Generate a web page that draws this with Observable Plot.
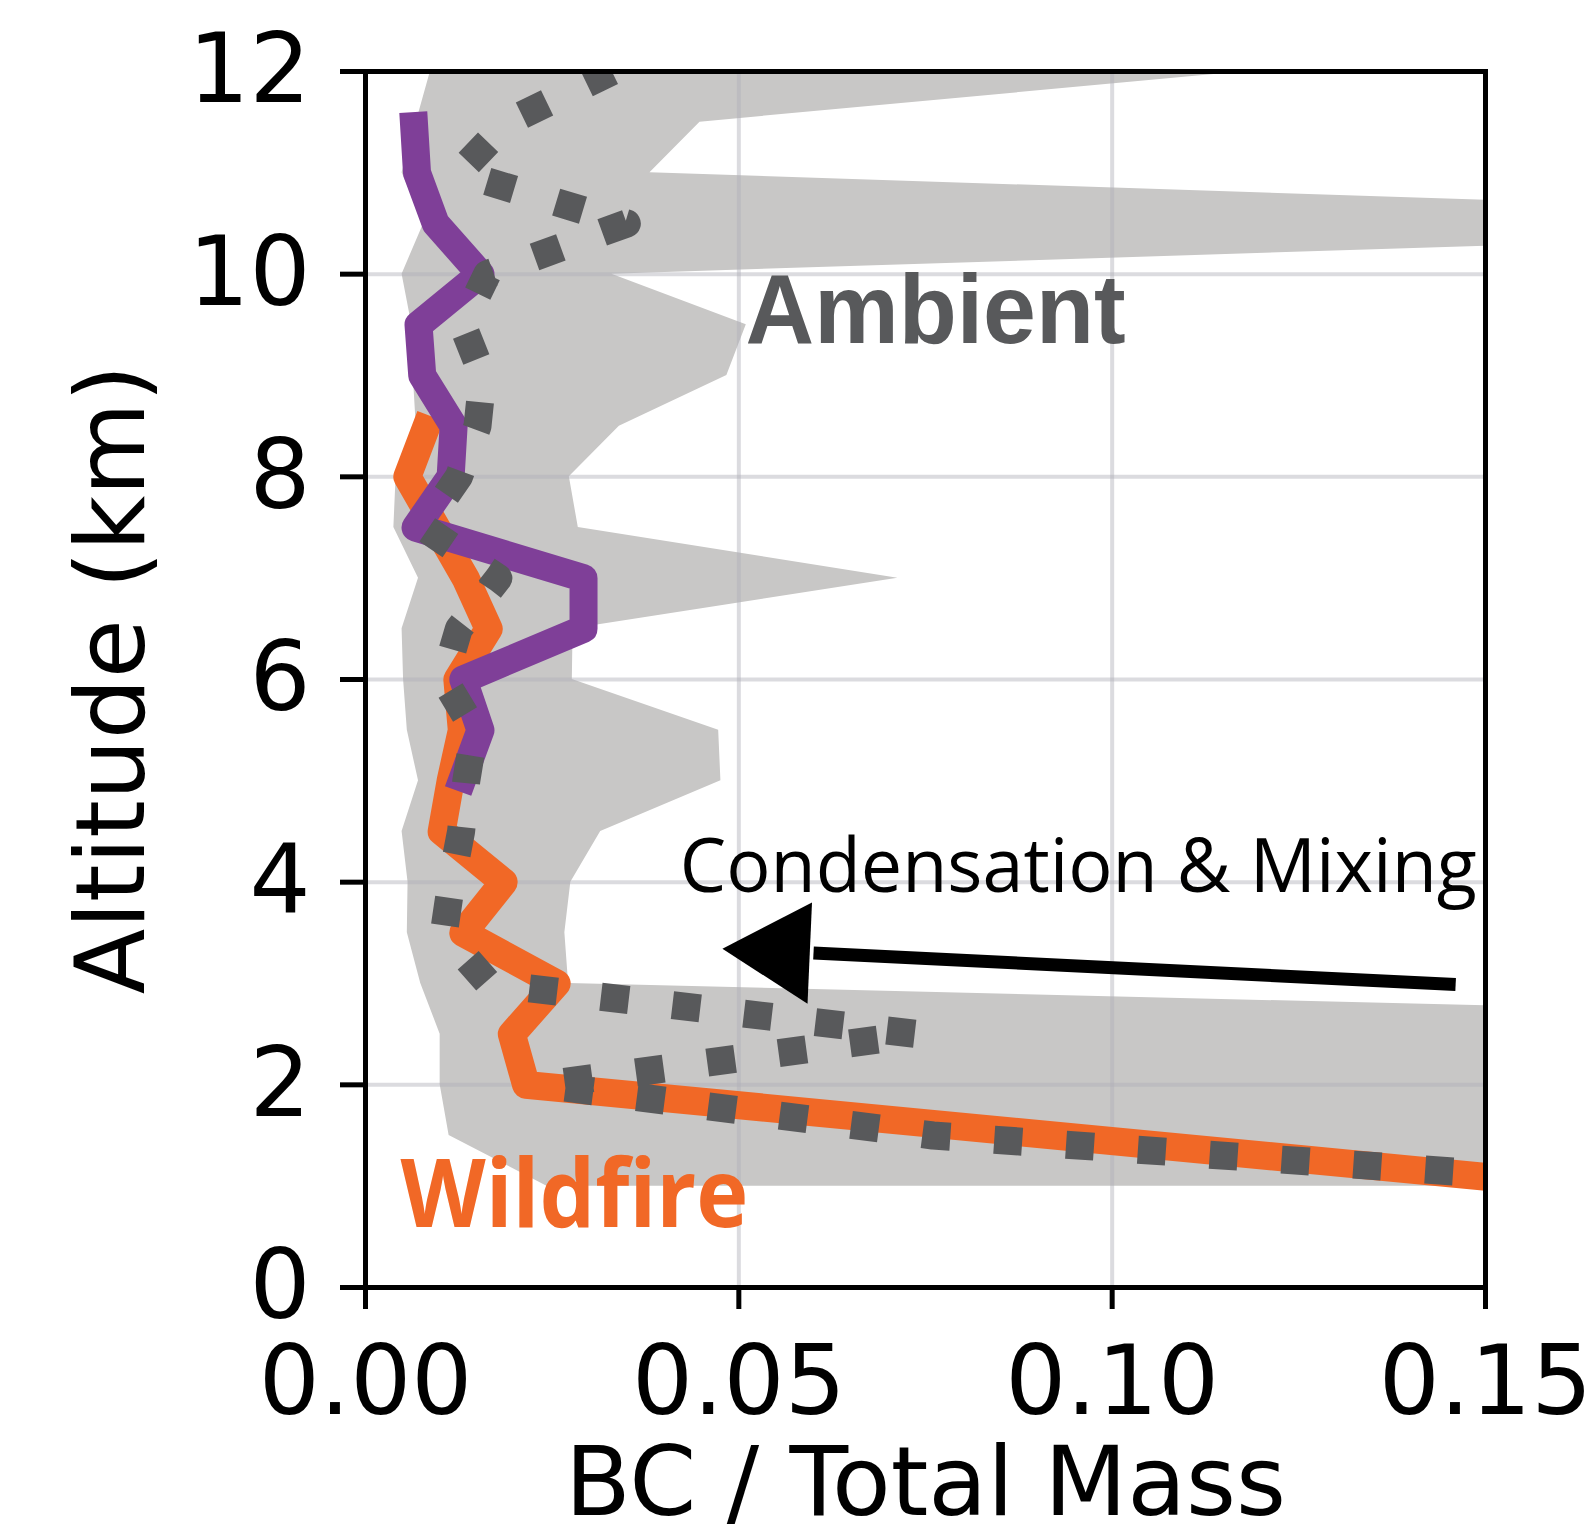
<!DOCTYPE html>
<html>
<head>
<meta charset="utf-8">
<script src="https://cdn.jsdelivr.net/npm/d3@7"></script>
<script src="https://cdn.jsdelivr.net/npm/@observablehq/plot@0.6"></script>
<style>
  html, body { margin: 0; padding: 0; background: white; }
  #chart { width: 1592px; height: 1538px; }
</style>
</head>
<body>
<div id="chart"></div>
<script>
// ---- Data ----
// Gray band: spread of ambient profiles (low / high edge per altitude bin)
const bandAlt  = [12.0, 11.5, 11.0, 10.5, 10.0, 9.5, 9.0, 8.5, 8.0, 7.5, 7.0, 6.5, 6.0, 5.5, 5.0, 4.5, 4.0, 3.5, 3.0, 2.5, 2.0, 1.5, 1.0];
const bandLow  = [0.0087, 0.0068, 0.0049, 0.0078, 0.0049, 0.0062, 0.0064, 0.0068, 0.0041, 0.0038, 0.0071, 0.0049, 0.0051, 0.0056, 0.0071, 0.0049, 0.0057, 0.0056, 0.0074, 0.0100, 0.0100, 0.0112, 0.0243];
const bandHigh = [0.118, 0.0448, 0.0381, 0.245, 0.033, 0.051, 0.0484, 0.034, 0.0273, 0.0285, 0.0713, 0.0278, 0.0277, 0.0473, 0.0476, 0.0315, 0.0275, 0.0267, 0.0272, 0.306, 0.306, 0.306, 0.306];

// Ambient mean profile (dotted)
const ambientAlt = [12.0, 11.5, 11.0, 10.5, 10.0, 9.5, 9.0, 8.5, 8.0, 7.5, 7.0, 6.5, 6.0, 5.5, 5.0, 4.5, 4.0, 3.5, 3.0, 2.5, 2.0, 1.5, 1.0];
const ambientBC  = [0.033, 0.019, 0.0125, 0.035, 0.0163, 0.013, 0.0157, 0.015, 0.0125, 0.0078, 0.0178, 0.0125, 0.0105, 0.0146, 0.0135, 0.0128, 0.0115, 0.0105, 0.0165, 0.074, 0.0238, 0.076, 0.174];

// Wildfire profile (orange)
const wildfireAlt = [8.6, 8.0, 7.5, 7.0, 6.5, 6.0, 5.5, 5.0, 4.5, 4.0, 3.5, 3.0, 2.5, 2.0, 1.0];
const wildfireBC  = [0.0087, 0.0056, 0.0095, 0.0134, 0.0165, 0.0123, 0.0129, 0.0114, 0.0102, 0.0185, 0.0131, 0.0256, 0.0196, 0.0215, 0.163];

// Upper-level profile (purple)
const purpleAlt = [11.6, 11.0, 10.5, 10.0, 9.5, 9.0, 8.5, 8.0, 7.5, 7.0, 6.5, 6.0, 5.5, 4.9];
const purpleBC  = [0.0064, 0.0069, 0.0094, 0.0154, 0.0071, 0.0076, 0.0118, 0.0114, 0.0067, 0.0292, 0.0292, 0.0131, 0.0154, 0.0124];

// Axes
const xTicks = [0.00, 0.05, 0.10, 0.15];
const yTicks = [0, 2, 4, 6, 8, 10, 12];
const xGrid = [0.05, 0.10];
const yGrid = [2, 4, 6, 8, 10];

// Annotations (data coordinates)
const labelText = ["Ambient", "Wildfire", "Condensation & Mixing"];
const labelX = [0.0509, 0.00468, 0.0421];
const labelY = [9.32, 0.595, 3.90];
const arrowShaftX = [0.146, 0.0600];
const arrowShaftY = [2.99, 3.30];
const arrowHeadX = [0.0478, 0.0598, 0.0592, 0.0478];
const arrowHeadY = [3.343, 3.80, 2.80, 3.343];

// ---- Build tables ----
const band = bandAlt.map((a, i) => ({alt: a, lo: bandLow[i], hi: bandHigh[i]}));
const ambient = ambientAlt.map((a, i) => ({alt: a, bc: ambientBC[i]}));
const wildfire = wildfireAlt.map((a, i) => ({alt: a, bc: wildfireBC[i]}));
const purple = purpleAlt.map((a, i) => ({alt: a, bc: purpleBC[i]}));
const labels = labelText.map((t, i) => ({t, x: labelX[i], y: labelY[i]}));
const shaft = arrowShaftX.map((x, i) => ({x, y: arrowShaftY[i]}));
const head = arrowHeadX.map((x, i) => ({x, y: arrowHeadY[i]}));

const COL_BAND = "#c8c7c6";
const COL_DARK = "#58595b";
const COL_ORANGE = "#f16826";
const COL_PURPLE = "#7f3f98";

const chart = Plot.plot({
  width: 1592,
  height: 1538,
  marginLeft: 365,
  marginRight: 107,
  marginTop: 71,
  marginBottom: 251,
  style: {fontFamily: "DejaVu Sans", fontSize: "96px", background: "white", color: "black"},
  x: {
    domain: [0, 0.15],
    ticks: xTicks,
    tickFormat: d3.format(".2f"),
    tickSize: 22,
    tickPadding: 36,
    label: "BC / Total Mass",
    labelAnchor: "center",
    labelOffset: 227,
    labelArrow: "none"
  },
  y: {
    domain: [0, 12],
    ticks: yTicks,
    tickFormat: d3.format("d"),
    tickSize: 25,
    tickPadding: 30,
    label: "Altitude (km)",
    labelAnchor: "center",
    labelOffset: 290,
    labelArrow: "none"
  },
  marks: [
    Plot.areaX(band, {y: "alt", x1: "lo", x2: "hi", fill: COL_BAND, clip: true}),
    Plot.ruleX(xGrid, {stroke: "#b0b0b8", strokeOpacity: 0.45, strokeWidth: 4}),
    Plot.ruleY(yGrid, {stroke: "#b0b0b8", strokeOpacity: 0.45, strokeWidth: 4}),
    Plot.line(wildfire, {x: "bc", y: "alt", stroke: COL_ORANGE, strokeWidth: 28, strokeLinecap: "butt", strokeLinejoin: "round", clip: true}),
    Plot.line(purple, {x: "bc", y: "alt", stroke: COL_PURPLE, strokeWidth: 28, strokeLinecap: "butt", strokeLinejoin: "round", clip: true}),
    Plot.line(ambient, {x: "bc", y: "alt", stroke: COL_DARK, strokeWidth: 28, strokeDasharray: "28,44", strokeLinecap: "butt", strokeLinejoin: "round", clip: true}),
    Plot.line(shaft, {x: "x", y: "y", stroke: "black", strokeWidth: 13, strokeLinecap: "butt"}),
    Plot.line(head, {x: "x", y: "y", stroke: "none", fill: "black"}),
    Plot.text(labels.filter(d => d.t === "Ambient"), {x: "x", y: "y", text: "t", textAnchor: "start", lineAnchor: "bottom", fill: COL_DARK, fontFamily: "Liberation Sans", fontWeight: "bold", fontSize: 99}),
    Plot.text(labels.filter(d => d.t === "Wildfire"), {x: "x", y: "y", text: "t", textAnchor: "start", lineAnchor: "bottom", fill: COL_ORANGE, fontFamily: "Open Sans", fontWeight: "bold", fontSize: 95}),
    Plot.text(labels.filter(d => d.t === "Condensation & Mixing"), {x: "x", y: "y", text: "t", textAnchor: "start", lineAnchor: "bottom", fill: "black", fontFamily: "Open Sans", fontSize: 75}),
    Plot.frame({stroke: "black", strokeWidth: 5})
  ]
});

// Thicker tick marks, and fit annotation widths to the reference
chart.querySelectorAll('g[aria-label*="axis"]').forEach(g => {
  g.querySelectorAll("line, path").forEach(el => {
    el.setAttribute("stroke-width", 5);
    el.style.strokeWidth = "5px";
  });
});
const targetWidths = {"Ambient": 380, "Wildfire": 348, "Condensation & Mixing": 797};
chart.querySelectorAll("text").forEach(t => {
  const s = t.textContent;
  if (targetWidths[s]) {
    t.setAttribute("textLength", targetWidths[s]);
    t.setAttribute("lengthAdjust", "spacingAndGlyphs");
  }
});

document.getElementById("chart").appendChild(chart);
</script>
</body>
</html>
